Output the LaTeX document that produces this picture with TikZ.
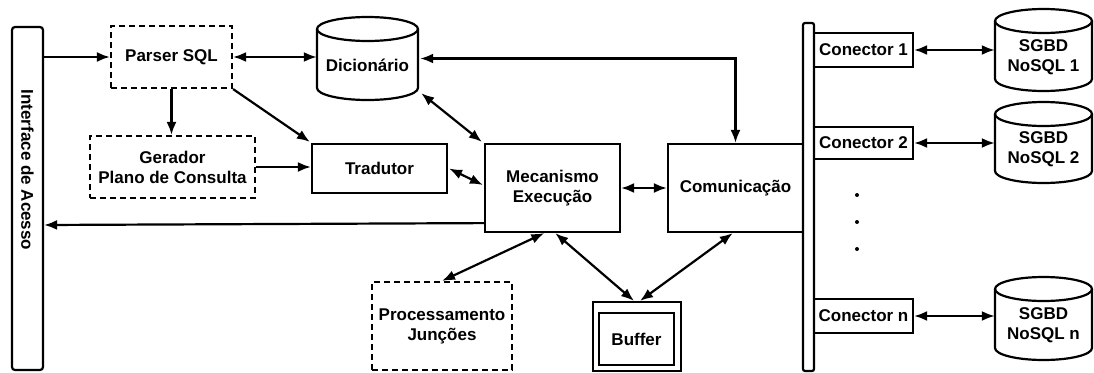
\documentclass[tikz,border=0pt]{standalone}
\usepackage{fontspec}
\setmainfont{Liberation Sans}
\usetikzlibrary{arrows.meta,calc}

\tikzset{
  lbl/.style={font=\fontsize{17}{20}\selectfont\bfseries, align=center},
  blk/.style={draw, line width=2.2pt, inner sep=0pt, lbl},
  dashblk/.style={blk, dash pattern=on 6pt off 4pt},
  drumline/.style={line width=2.2pt},
  dotmark/.style={circle, fill, inner sep=0pt, minimum size=4pt},
  arr/.style={line width=2.2pt, -{Latex[length=13pt,width=10pt]}},
  biarr/.style={line width=2.2pt, {Latex[length=13pt,width=10pt]}-{Latex[length=13pt,width=10pt]}},
}

% cylinder: name, x1, y1, x2, y2, label
\newcommand{\drum}[6]{%
  \pgfmathsetmacro{\drumcx}{(#2+#4)/2}%
  \pgfmathsetmacro{\drumrx}{(#4-#2)/2}%
  \node[inner sep=0pt, minimum width={#4-#2}, minimum height={#5-#3}] (#1) at (\drumcx,{(#3+#5)/2}) {};
  \draw[drumline] (\drumcx,#3+12) ellipse[x radius=\drumrx pt, y radius=12pt];
  \draw[drumline] (#2,#3+12) -- (#2,#5-12)
     arc[start angle=180, end angle=360, x radius=\drumrx pt, y radius=12pt] -- (#4,#3+12);
  \node[lbl] (#1-label) at (\drumcx,{(#3+#5)/2+7}) {#6};
}

\begin{document}
\begin{tikzpicture}[x=1pt,y=-1pt]
\useasboundingbox (0,0) rectangle (1094,372);

% access interface
\node[blk, minimum width=31pt, minimum height=343pt, rounded corners=3pt] (iface) at (27.5,198.5) {};
\node[lbl, rotate=-90] (iface-label) at (27.5,170) {Interface de Acesso};

% query front end
\node[dashblk, minimum width=121pt, minimum height=62pt] (parser) at (171.5,57) {Parser SQL};
\node[dashblk, minimum width=165pt, minimum height=62pt] (gerador) at (172.5,167) {Gerador\\Plano de Consulta};
\drum{dic}{317}{17}{418}{100}{Dicionário}
\node[blk, minimum width=135pt, minimum height=49pt] (trad) at (379.5,168.5) {Tradutor};

% execution core
\node[blk, minimum width=135pt, minimum height=88pt] (mec) at (552.5,188) {Mecanismo\\Execução};
\node[blk, minimum width=135pt, minimum height=88pt] (com) at (735.5,188) {Comunicação};
\node[dashblk, minimum width=140pt, minimum height=88pt] (proc) at (442,326) {Processamento\\Junções};
\node[blk, minimum width=88pt, minimum height=69pt] (buf) at (637,336.5) {};
\node[blk, minimum width=75pt, minimum height=52pt] (bufin) at (636.5,339) {Buffer};

% connector bus
\node[blk, minimum width=11pt, minimum height=348pt, rounded corners=2pt] (bus) at (808.5,197) {};
\node[blk, minimum width=99pt, minimum height=34pt] (con1) at (863.5,50) {Conector 1};
\node[blk, minimum width=99pt, minimum height=32pt] (con2) at (863.5,143) {Conector 2};
\node[blk, minimum width=99pt, minimum height=34pt] (conn) at (863.5,316) {Conector n};
\node[dotmark] (dot1) at (857,195) {};
\node[dotmark] (dot2) at (857,222) {};
\node[dotmark] (dot3) at (857,249) {};

% NoSQL stores
\drum{sg1}{995}{9}{1092}{91}{SGBD\\NoSQL 1}
\drum{sg2}{995}{102}{1092}{183}{SGBD\\NoSQL 2}
\drum{sgn}{995}{277}{1092}{360}{SGBD\\NoSQL n}

% flows
\draw[arr] (iface.east |- parser.west) -- (parser.west);
\draw[biarr] (parser.east) -- (parser.east -| dic.west);
\draw[arr] (parser.south) -- (parser.south |- gerador.north);
\draw[arr] (parser.south east) -- ($(trad.north west)+(-1,-1)$);
\draw[arr] (gerador.east) -- (gerador.east -| trad.west);
\draw[biarr] ($(trad.east)+(1,0)$) -- ($(mec.west)+(-1,-3)$);
\draw[biarr] ($(dic.south east)+(3,-7)$) -- ($(mec.north west)+(-2,-1)$);
\draw[biarr] ($(dic.east)+(2,0)$) -| (com.north);
\draw[biarr] (mec.east) -- (com.west);
\draw[arr] ($(mec.south west)+(0,-10)$) -- ($(iface.east)+(0,26.5)$);
\draw[biarr] ($(mec.south west)!0.44!(mec.south east)$) -- (proc.north);
\draw[biarr] ($(mec.south west)!0.52!(mec.south east)$) -- ($(buf.north)+(-3,0)$);
\draw[biarr] ($(com.south west)!0.48!(com.south east)$) -- ($(buf.north)+(3,0)$);
\draw[biarr] (con1.east) -- (con1.east -| sg1.west);
\draw[biarr] (con2.east) -- (con2.east -| sg2.west);
\draw[biarr] (conn.east) -- (conn.east -| sgn.west);
\end{tikzpicture}
\end{document}
